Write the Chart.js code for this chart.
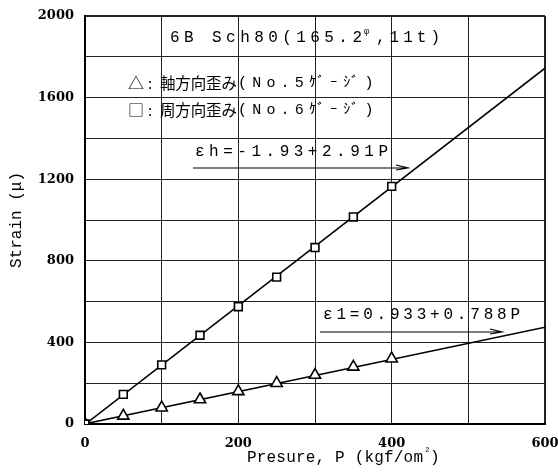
<!DOCTYPE html>
<html><head><meta charset="utf-8">
<script src="https://cdn.jsdelivr.net/npm/chart.js@4.4.1/dist/chart.umd.min.js"></script>
<style>html,body{margin:0;padding:0;background:#fff}#wrap{width:558px;height:476px}</style>
</head><body><div id="wrap"><canvas id="c" width="558" height="476"></canvas></div>
<script>
const pressures = [0, 50, 100, 150, 200, 250, 300, 350, 400];
const hoopStrain = [0, 145, 290, 435, 575, 720, 865, 1015, 1165];
const axialStrain = [0, 40, 80, 120, 160, 200, 240, 280, 320];
const hoopFitP = [0, 600];
const hoopFitStrain = [-1.93, 1744];
const axialFitP = [0, 600];
const axialFitStrain = [0.933, 474];
const xTickLabels = [0, 200, 400, 600];
const yTickLabels = [0, 400, 800, 1200, 1600, 2000];

const pts = (xs, ys) => xs.map((x, i) => ({x, y: ys[i]}));
const MONO = '"Liberation Mono", "DejaVu Sans Mono", monospace';
const JP = '"Noto Sans CJK JP", sans-serif';

const textPlugin = {
  id: 'texts',
  afterDraw(chart) {
    const ctx = chart.ctx;
    ctx.save();
    ctx.fillStyle = '#000';
    ctx.textBaseline = 'middle';
    const fit = (t, x0, x1, y, font) => {
      ctx.font = font; ctx.letterSpacing = '0px';
      const w = ctx.measureText(t).width;
      const n = [...t].length;
      const sp = n > 1 ? (x1 - x0 - w) / (n - 1) : 0;
      ctx.letterSpacing = sp + 'px';
      ctx.fillText(t, x0, y);
    };
    const put = (t, x, y, font) => { ctx.font = font; ctx.letterSpacing = '0px'; ctx.fillText(t, x, y); };
    // title line
    fit('6B Sch80(165.2', 170, 362, 38, '16px ' + MONO);
    put('φ', 364, 32, '9px ' + MONO);
    fit(',11t)', 376, 440, 38, '16px ' + MONO);
    // legend lines
    put('△', 128, 83, '16px ' + JP);
    put(':', 148, 83, '15px ' + JP);
    fit('軸方向歪み', 160, 237, 83, '15.5px ' + JP);
    fit('(No.5ｹﾞｰｼﾞ)', 238, 384, 83, '15px ' + MONO);
    put('□', 128, 110, '16px ' + JP);
    put(':', 148, 110, '15px ' + JP);
    fit('周方向歪み', 160, 237, 110, '15.5px ' + JP);
    fit('(No.6ｹﾞｰｼﾞ)', 238, 384, 110, '15px ' + MONO);
    // equations
    fit('εh=-1.93+2.91P', 195, 388, 152, '16px ' + MONO);
    fit('ε1=0.933+0.788P', 323, 520, 315, '16px ' + MONO);
    // arrows
    const arrow = (x1, x2, y) => {
      ctx.strokeStyle = '#000'; ctx.lineWidth = 1.2;
      ctx.beginPath(); ctx.moveTo(x1, y); ctx.lineTo(x2, y);
      ctx.moveTo(x2 - 12, y - 3); ctx.lineTo(x2, y); ctx.lineTo(x2 - 12, y + 2);
      ctx.stroke();
    };
    arrow(193, 408, 168);
    arrow(320, 502, 332);
    // x-axis title
    fit('Presure, P (kgf/om', 247, 423, 458, '16px ' + MONO);
    put('²', 424, 452, '11px ' + MONO);
    put(')', 430, 458, '16px ' + MONO);
    ctx.restore();
  }
};

new Chart(document.getElementById('c'), {
  type: 'scatter',
  data: {
    datasets: [
      {data: pts(hoopFitP, hoopFitStrain), showLine: true, borderColor: '#000', borderWidth: 1.6, pointRadius: 0, order: 2},
      {data: pts(axialFitP, axialFitStrain), showLine: true, borderColor: '#000', borderWidth: 1.6, pointRadius: 0, order: 2},
      {data: pts(pressures, hoopStrain), pointStyle: 'rect', pointRadius: 5.5, borderColor: '#000', borderWidth: 1.6, backgroundColor: '#fff', order: 1},
      {data: pts(pressures, axialStrain), pointStyle: 'triangle', pointRadius: 6.5, borderColor: '#000', borderWidth: 1.6, backgroundColor: '#fff', order: 1}
    ]
  },
  options: {
    responsive: false, animation: false,
    layout: {padding: {left: 0, right: 0, top: 16, bottom: 0}},
    plugins: {legend: {display: false}, tooltip: {enabled: false}},
    scales: {
      x: {
        type: 'linear', min: 0, max: 600,
        afterFit: s => { s.height = 52; s.paddingRight = 13; s.paddingLeft = 0; },
        ticks: {stepSize: 100, padding: 12, color: '#000', font: {family: '"DejaVu Serif", serif', size: 13, weight: 'bold'},
          callback: v => xTickLabels.includes(v) ? String(v) : ''},
        grid: {color: '#222', lineWidth: c => (c.tick && c.tick.value === 600) ? 2 : 1, tickLength: 0},
        border: {color: '#000', width: 2}
      },
      y: {
        type: 'linear', min: 0, max: 2000,
        afterFit: s => { s.width = 85; s.paddingTop = 0; s.paddingBottom = 0; },
        ticks: {stepSize: 200, padding: 11, color: '#000', font: {family: '"DejaVu Serif", serif', size: 13, weight: 'bold'},
          callback: v => yTickLabels.includes(v) ? String(v) : ''},
        grid: {color: '#222', lineWidth: c => (c.tick && c.tick.value === 2000) ? 2 : 1, tickLength: 0},
        border: {color: '#000', width: 2},
        title: {display: true, text: 'Strain (μ)', color: '#000', font: {family: MONO, size: 16}, padding: {top: 7, bottom: 0}}
      }
    }
  },
  plugins: [textPlugin]
});
</script></body></html>
